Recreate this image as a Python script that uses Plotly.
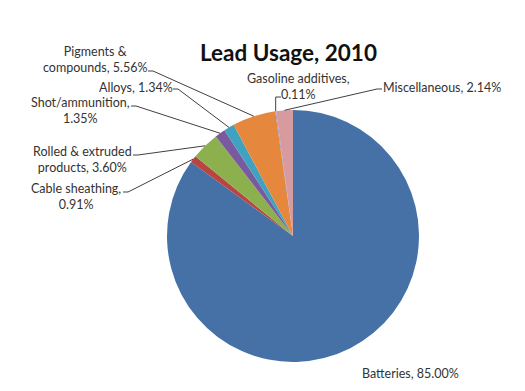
import math

import plotly.graph_objects as go

W, H = 525, 391
OFF = 8  # page body margin, so positions below are in screenshot pixels

labels = [
    "Batteries",
    "Cable sheathing",
    "Rolled & extruded products",
    "Shot/ammunition",
    "Alloys",
    "Pigments & compounds",
    "Gasoline additives",
    "Miscellaneous",
]
shares = [85.00, 0.91, 3.60, 1.35, 1.34, 5.56, 0.11, 2.14]
colors = ["#4571A7", "#B84542", "#8DB04E", "#7A5A9E", "#3FA2C0", "#E5883D", "#8A8FB0", "#D69A9F"]

# label text as shown on the chart (with line breaks)
label_text = [
    "Batteries, 85.00%",
    "Cable sheathing,<br>0.91%",
    "Rolled & extruded<br>products, 3.60%",
    "Shot/ammunition,<br>1.35%",
    "Alloys, 1.34%",
    "Pigments &<br>compounds, 5.56%",
    "Gasoline additives,<br>0.11%",
    "Miscellaneous, 2.14%",
]

# pie placement in pixels
CX, CY, R = 293, 236, 126

# text centre (px), and leader start point (px) or None
label_pos = [(410, 373), (76, 196), (82, 159), (80, 110), (136, 87), (95, 59), (298, 86), (442, 87)]
leader_start = [None, (123, 192), (133, 155), (131, 106), (173, 89), (148, 71), (281, 97), (382, 89)]


def px_to_paper(x, y):
    return (x - OFF) / W, 1 - (y - OFF) / H


x0, y1 = px_to_paper(CX - R, CY - R)
x1, y0 = px_to_paper(CX + R, CY + R)

fig = go.Figure(
    go.Pie(
        labels=labels,
        values=shares,
        sort=False,
        direction="clockwise",
        rotation=0,
        marker=dict(colors=colors, line=dict(width=0)),
        textinfo="none",
        hoverinfo="label+percent",
        showlegend=False,
        domain=dict(x=[x0, x1], y=[y0, y1]),
    )
)

total = sum(shares)
cum = 0.0
shapes = []
annotations = []
for i, v in enumerate(shares):
    mid = (cum + v / 2) / total * 2 * math.pi
    cum += v
    tip = (CX + R * math.sin(mid), CY - R * math.cos(mid))
    tx, ty = px_to_paper(*label_pos[i])
    annotations.append(dict(
        x=tx, y=ty, xref="paper", yref="paper", xanchor="center", yanchor="middle",
        text=label_text[i], showarrow=False, align="center",
        font=dict(family="Lato, sans-serif", size=12.5, color="#333333"),
    ))
    if leader_start[i] is None:
        continue
    sx, sy = leader_start[i]
    if i == 6:
        # gasoline: short stub left of "0.11%" then down to the slice
        elbow = (tip[0], sy)
    elif sx > CX:
        elbow = (sx - 5, sy)
    else:
        elbow = (sx + 5, sy)
    pts = [px_to_paper(sx, sy), px_to_paper(*elbow), px_to_paper(*tip)]
    path = "M {} {} L {} {} L {} {}".format(*[c for p in pts for c in p])
    shapes.append(dict(type="path", path=path, xref="paper", yref="paper",
                       line=dict(color="#404040", width=1)))

tx, ty = px_to_paper(288, 53)
annotations.append(dict(
    x=tx, y=ty, xref="paper", yref="paper", xanchor="center", yanchor="middle",
    text="<b>Lead Usage, 2010</b>", showarrow=False,
    font=dict(family="Lato, sans-serif", size=22.5, color="#111111"),
))

fig.update_layout(
    width=W,
    height=H,
    margin=dict(l=0, r=0, t=0, b=0),
    paper_bgcolor="white",
    plot_bgcolor="white",
    shapes=shapes,
    annotations=annotations,
)

fig.write_html("out.html")
